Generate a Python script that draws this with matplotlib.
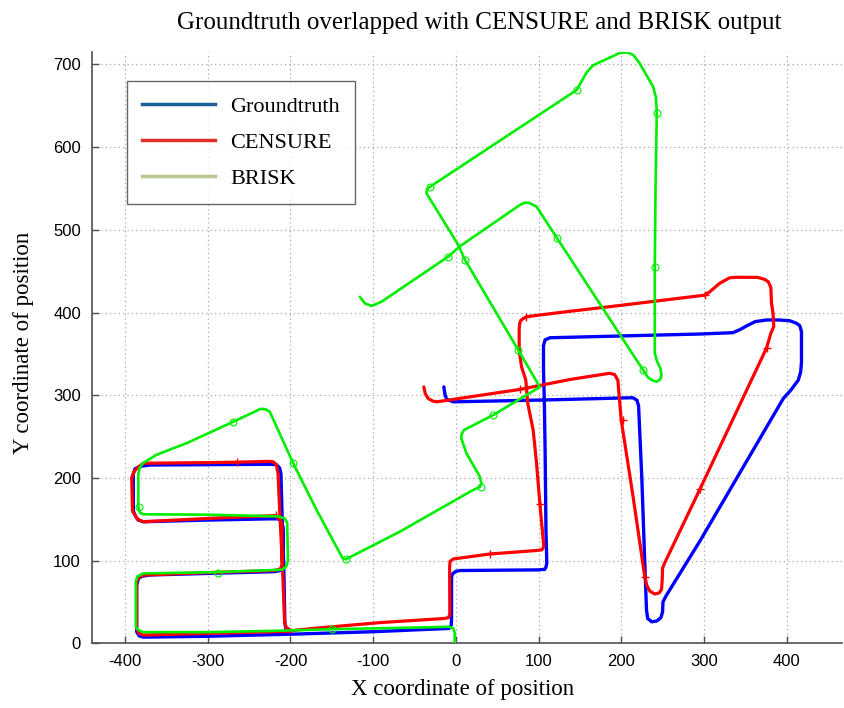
import matplotlib
matplotlib.use("Agg")
import matplotlib.pyplot as plt
from matplotlib.lines import Line2D

plt.rcParams["axes.unicode_minus"] = False

# ---------------- data ----------------
title = "Groundtruth overlapped with CENSURE and BRISK output"
xlabel = "X coordinate of position"
ylabel = "Y coordinate of position"
series_names = ["Groundtruth", "CENSURE", "BRISK"]
xticks = [-400, -300, -200, -100, 0, 100, 200, 300, 400]
yticks = [0, 100, 200, 300, 400, 500, 600, 700]

gt_x = [-14.5, -13, -11, -3, 110, 214, 219, 221, 225, 228.5,
        230.6, 232, 237, 243, 248, 250, 250.5, 254, 296, 396,
        405, 414, 417, 418, 418, 416, 412, 404, 390, 376,
        362, 352, 343, 335, 295, 114, 108, 106, 106, 107,
        108, 109, 110, 109, 107.6, 100, 5, 0, -4, -5.2,
        -5.2, -5.5, -8, -100, -200, -300, -378, -383, -386, -386,
        -384, -380, -370, -300, -220, -212, -209.5, -209, -211, -215,
        -225, -300, -378, -384, -387, -390, -390, -388, -382, -370,
        -300, -225, -217, -213, -211.5, -210, -208, -206.8, -205]
gt_y = [310, 300, 295, 292, 294.3, 297, 294, 287, 197.5, 96.7,
        40, 30, 26, 27, 31, 38, 50, 57, 125, 296,
        306, 318, 328, 340, 377, 384, 387, 390, 391, 391,
        389, 384, 379, 375.6, 374, 369.5, 367, 360, 330, 294,
        230, 137, 97, 92, 89.5, 88.8, 88, 87, 84, 80,
        30, 22, 18, 14, 11, 8.5, 7.5, 9, 14, 70,
        78, 81, 82.6, 84.5, 86.6, 88, 92, 140, 148, 150.5,
        150.5, 149, 147, 149, 153, 160, 205, 211, 214, 215.6,
        216, 216.5, 216, 212, 205, 150, 90, 25, 14]

cen_x = [-38.7, -37, -33.5, -28, -23, -3, 77.4, 137.8, 186, 192,
         196, 197, 200, 214.4, 228.5, 231, 234.6, 240.6, 246, 248.7,
         249.5, 250, 252, 295, 375.7, 381, 384.5, 383.5, 381.7, 381,
         378, 373.6, 365, 340, 331, 319, 307, 301, 194, 134,
         85.5, 79, 77.4, 76.6, 76.6, 79.4, 84.6, 86, 87, 93.5,
         97.6, 101.6, 106.4, 104, 95, 41.1, -3, -7, -7.5, -7.3,
         -9, -14, -92, -172.6, -192.6, -200, -300, -378, -383, -386,
         -386, -383, -378, -300, -220, -212, -210, -210.5, -213, -218,
         -300, -378, -385, -391, -392, -389, -384, -378, -300, -265,
         -226, -221, -217, -215, -213, -210, -207, -205, -200]
cen_y = [310, 302, 296, 293, 292, 295, 307, 319, 326.5, 325,
         318, 305, 270, 177, 80.5, 70, 63, 59.6, 61, 65,
         75, 90.7, 96, 186, 357, 375, 383, 400, 411, 430,
         437, 440, 442.5, 442.6, 442, 435.3, 425, 421, 408, 401,
         395, 391, 388, 380, 355, 334.5, 318.4, 302, 290, 258,
         217.7, 169, 116.8, 113, 112, 108, 102, 99, 92, 35,
         31, 30, 25, 18, 16, 14.5, 12, 10, 12, 18,
         75, 80, 82.5, 85.5, 88, 90, 95, 145, 151, 154.5,
         151, 147, 150, 160, 200, 208, 213, 217.7, 218.5, 219,
         220, 219.5, 216, 205, 160, 100, 25, 19, 16]

br_x = [-116, -110, -102, -90, -9.3, 4.8, 77.4, 84, 89, 97.6,
        122, 218.5, 226.5, 232, 236.6, 242.7, 247, 248.7, 247.5, 243,
        240.6, 240.6, 240.6, 241.5, 243, 242, 238.6, 230, 222.5, 215,
        208, 198.3, 190, 166, 158, 150, 146, -31.4, -35, -35.4,
        2.8, 10.9, 75.3, 101.6, 45.1, 10, 7, 6.5, 12.9,
        29, 31, 29, 20.9, -67.7, -133, -137, -168.4, -196.7, -225,
        -230, -236, -269, -325.6, -362, -378, -382, -384, -384, -382,
        -378, -300, -215, -207, -204, -203, -205, -210, -290, -378,
        -385, -387, -387, -384, -378, -300, -212.8, -150, -50, -8,
        -3, -1.5, -1.2]
br_y = [419, 411, 408, 413, 467.5, 480, 530, 533, 532.5, 528,
        490.5, 342.6, 330.5, 322, 318.4, 316.3, 319, 324, 332, 342,
        351, 379, 455.4, 550, 641.6, 660, 673, 688, 701, 711,
        714.5, 714, 710, 699, 690, 676, 669, 552, 549, 544,
        482, 464, 355, 310, 276, 258, 253, 248, 229.7,
        201.5, 192.6, 189, 185.4, 135, 101.6, 103, 161.2, 217.7, 280,
        283, 283.5, 268, 242, 228, 218, 213, 205, 165, 158,
        156, 155.5, 153.5, 151, 146, 100, 93, 89, 86, 84.5,
        81, 75, 20, 16, 13.5, 13.5, 15.2, 17, 19, 20,
        18, 13, 0]

cen_mark_x = [84.6, 77.4, 202.3, 228.5, 295, 375.7, 301, 41.1, 101.6, -265, -218]
cen_mark_y = [395, 307, 270, 80.5, 186, 357, 421, 108, 169, 219, 155]

br_mark_x = [-9.3, 10.9, 75.3, 146, -31.4, 243, 240.6, 226.5, 45.1, 31,
             -133, -196.7, -269, -383, -287.4, -150, 122]
br_mark_y = [467.5, 463.5, 355, 669, 552, 641.6, 455.4, 330.5, 276, 189.4,
             101.6, 217.7, 268, 165, 85.4, 17, 490.5]

# ---------------- figure ----------------
W, H = 845, 708
fig = plt.figure(figsize=(W / 100, H / 100), dpi=100)
ax = fig.add_axes([92 / W, 1 - 643.3 / H, 750 / W, 591.6 / H])

serif = ["Liberation Serif", "DejaVu Serif"]
sans = ["Liberation Sans", "DejaVu Sans"]

kw = dict(solid_joinstyle="round", solid_capstyle="round")
ax.plot(gt_x, gt_y, color="#0000ff", lw=2.4, zorder=3, **kw)
ax.plot(cen_x, cen_y, color="#ff0000", lw=2.3, zorder=4, **kw)
ax.plot(cen_mark_x, cen_mark_y, ls="none", marker="+", ms=6, mew=1.0,
        color="#ff0000", zorder=4)
ax.plot(br_x, br_y, color="#00ee00", lw=1.9, zorder=5, **kw)
ax.plot(br_mark_x, br_mark_y, ls="none", marker="o", ms=5, mew=0.8,
        mfc="none", mec="#00ee00", zorder=5)

ax.set_xlim(-440, 467)
ax.set_ylim(0, 715.4)
ax.set_xticks(xticks)
ax.set_yticks(yticks)
ax.grid(True, color="#a8a8a8", linestyle=(0, (1, 2.5)), linewidth=0.9)
ax.set_axisbelow(True)

for s in ("top", "right"):
    ax.spines[s].set_visible(False)
for s in ("left", "bottom"):
    ax.spines[s].set_color("#505050")
    ax.spines[s].set_linewidth(1.2)
ax.tick_params(direction="in", length=5, width=1, color="#505050",
               labelsize=12, pad=8)
for lab in ax.get_xticklabels() + ax.get_yticklabels():
    lab.set_family(sans)

fig.text(479 / W, 1 - 23 / H, title, ha="center", va="center",
         fontsize=18, family=serif)
fig.text(463 / W, 1 - 690 / H, xlabel, ha="center", va="center",
         fontsize=16.5, family=serif)
fig.text(24 / W, 1 - 343 / H, ylabel, ha="center", va="center",
         rotation=90, fontsize=16.5, family=serif)

handles = [Line2D([], [], color="#1b5e98", lw=2.5),
           Line2D([], [], color="#e0302a", lw=2.5),
           Line2D([], [], color="#b8c890", lw=2.5)]
leg = ax.legend(handles, series_names, loc="upper left",
                bbox_to_anchor=((127 - 92) / 750, (643.3 - 81) / 591.6),
                prop={"family": serif, "size": 16}, frameon=True,
                fancybox=False, edgecolor="#404040", handlelength=3.3,
                handletextpad=0.68, labelspacing=0.7, borderpad=0.68,
                borderaxespad=0)
leg.get_frame().set_linewidth(1.0)

fig.savefig("out.png", dpi=100)
